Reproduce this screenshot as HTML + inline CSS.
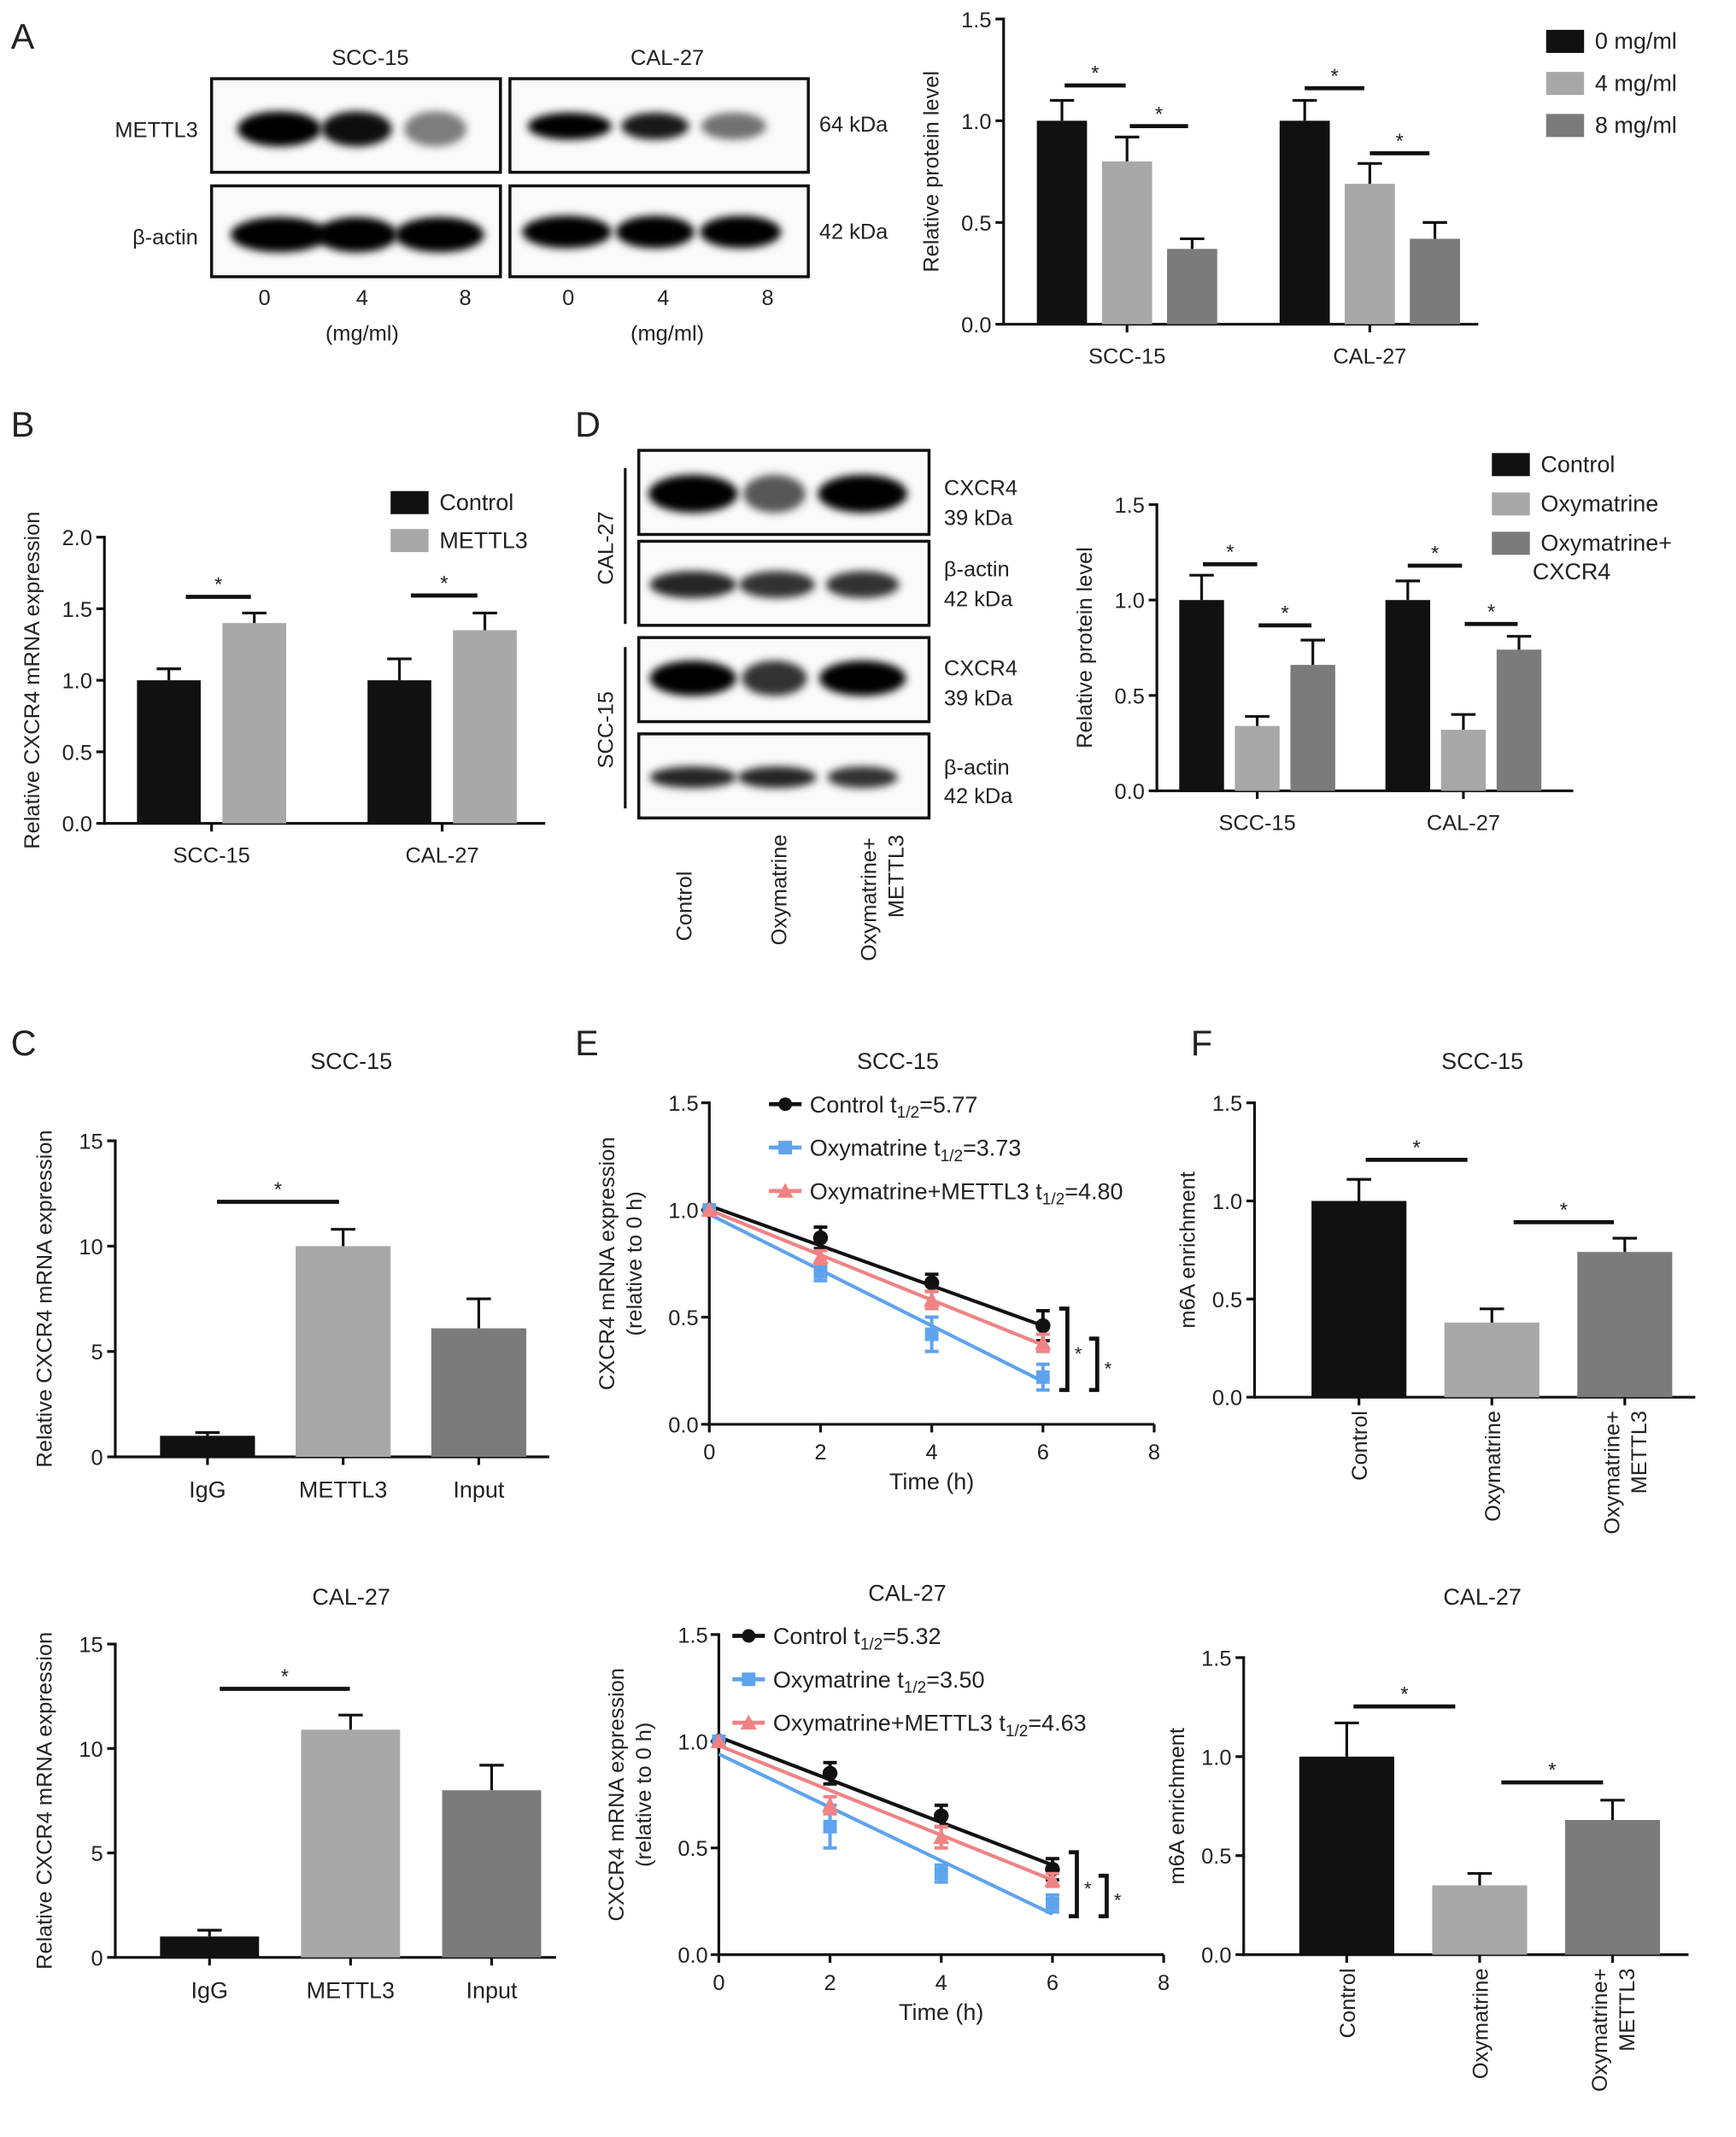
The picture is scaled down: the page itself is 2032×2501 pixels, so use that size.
<!DOCTYPE html>
<html><head><meta charset="utf-8">
<style>
html,body{margin:0;padding:0;background:#fff;}
svg{display:block;}
text{font-family:"Liberation Sans",Arial,sans-serif;fill:#222;}
</style></head>
<body>
<svg id="fig" width="2032" height="2501" viewBox="0 0 1280 1575.4" xmlns="http://www.w3.org/2000/svg">
<defs>
<filter id="blur" x="-30%" y="-80%" width="160%" height="260%"><feGaussianBlur stdDeviation="3"/></filter>
</defs>
<g id="root"></g>
</svg>
<script>
// ---------- DATA ----------
// Panel A
const aGroups=["SCC-15","CAL-27"];
const aSeries=["0 mg/ml","4 mg/ml","8 mg/ml"];
const aVals=[[1.0,0.80,0.37],[1.0,0.69,0.42]];
const aErr=[[0.10,0.12,0.05],[0.10,0.10,0.08]];
const aTicks=[0,0.5,1.0,1.5];
// Panel B
const bGroups=["SCC-15","CAL-27"];
const bSeries=["Control","METTL3"];
const bVals=[[1.0,1.40],[1.0,1.35]];
const bErr=[[0.08,0.07],[0.15,0.12]];
const bTicks=[0,0.5,1.0,1.5,2.0];
// Panel D
const dGroups=["SCC-15","CAL-27"];
const dSeries=["Control","Oxymatrine","Oxymatrine+"];
const dVals=[[1.0,0.34,0.66],[1.0,0.32,0.74]];
const dErr=[[0.13,0.05,0.13],[0.10,0.08,0.07]];
const dTicks=[0,0.5,1.0,1.5];
// Panel C
const cCats=["IgG","METTL3","Input"];
const cTopVals=[1.0,10.0,6.1];
const cTopErr=[0.15,0.8,1.4];
const cBotVals=[1.0,10.9,8.0];
const cBotErr=[0.3,0.7,1.2];
const cTicks=[0,5,10,15];
// Panel F
const fCats=["Control","Oxymatrine","Oxymatrine+METTL3"];
const fTopVals=[1.0,0.38,0.74];
const fTopErr=[0.11,0.07,0.07];
const fBotVals=[1.0,0.35,0.68];
const fBotErr=[0.17,0.06,0.10];
const fTicks=[0,0.5,1.0,1.5];
// Panel E
const eTimes=[0,2,4,6];
const eXTicks=[0,2,4,6,8];
const eYTicks=[0,0.5,1.0,1.5];
const eTopCtrl=[1.0,0.87,0.66,0.46];
const eTopOxy=[1.0,0.71,0.42,0.22];
const eTopOxyM=[1.0,0.78,0.58,0.38];
const eTopErr=[[0,0.05,0.04,0.07],[0,0.04,0.08,0.06],[0,0.03,0.04,0.04]];
const eTopFit=[[1.02,0.46],[0.98,0.20],[1.0,0.37]];
const eTopHalf=["5.77","3.73","4.80"];
const eBotCtrl=[1.0,0.85,0.65,0.40];
const eBotOxy=[1.0,0.60,0.38,0.24];
const eBotOxyM=[1.0,0.70,0.55,0.35];
const eBotErr=[[0,0.05,0.05,0.05],[0,0.1,0.04,0.04],[0,0.04,0.05,0.03]];
const eBotFit=[[1.02,0.42],[0.94,0.19],[0.98,0.35]];
const eBotHalf=["5.32","3.50","4.63"];

// ---------- HELPERS ----------
const NS="http://www.w3.org/2000/svg";
const root=document.getElementById('root');
function mk(tag,attrs,parent,txt){const e=document.createElementNS(NS,tag);for(const k in attrs)e.setAttribute(k,attrs[k]);if(txt!==undefined)e.textContent=txt;(parent||root).appendChild(e);return e;}
function line(x1,y1,x2,y2,p,w){return mk('line',{x1,y1,x2,y2,stroke:'#111','stroke-width':w||2},p);}
function txt(x,y,s,size,anchor,p,rot){const a={x,y,'font-size':size,'text-anchor':anchor||'middle'};if(rot)a.transform=`rotate(-90 ${x} ${y})`;return mk('text',a,p,s);}
const COLS=['#111111','#a8a8a8','#7b7b7b'];

function yScale(y0,yTop,max){return v=>y0-(v/max)*(y0-yTop);}

function yAxis(g,x,y0,yTop,max,ticks,fmt){
  const Y=yScale(y0,yTop,max);
  line(x,y0+1,x,yTop-1,g);
  ticks.forEach(t=>{line(x-6,Y(t),x,Y(t),g);txt(x-9,Y(t)+6,fmt(t),16,'end',g);});
  return Y;
}
function bar(g,x,w,v,e,Y,col,name){
  const r=mk('rect',{x,y:Y(v),width:w,height:Y(0)-Y(v),fill:col},g);
  
  
  const cx=x+w/2;
  line(cx,Y(v),cx,Y(v+e),g,2);
  line(cx-9,Y(v+e),cx+9,Y(v+e),g,2);
}
function sig(g,x1,x2,y){line(x1,y,x2,y,g,3);txt((x1+x2)/2,y-4,'*',15,'middle',g);}
function grp(name){const g=mk('g',{});return g;}
const f1=t=>t.toFixed(1), f0=t=>String(t);

// ---------- PANEL LETTERS ----------
[['A',8,36],['B',8,322],['D',424,322],['C',8,778],['E',424,778],['F',878,778]].forEach(([l,x,y])=>{
  const t=txt(x,y,l,26,'start');});

// ---------- BLOTS ----------
function blot(g,x,y,w,h,bands,bandY,bh){
  mk('rect',{x,y,width:w,height:h,fill:'#fafafa',stroke:'#111','stroke-width':2.2},g);
  bands.forEach(([cx,bw,op,dy])=>{mk('ellipse',{cx:x+cx,cy:y+bandY+(dy||0),rx:bw/2,ry:bh/2,fill:'#000','fill-opacity':op,filter:'url(#blur)'},g);});
}
(function(){
  const g=grp('blot-panel-a');
  txt(273,48,'SCC-15',16,'middle',g);txt(492,48,'CAL-27',16,'middle',g);
  blot(g,156,58,213,69,[[50,62,1],[107,52,0.95],[165,46,0.5]],37,26);
  blot(g,376,58,220,69,[[44,62,1],[107,50,0.9],[165,48,0.55]],35,20);
  blot(g,156,137,213,67,[[50,72,1],[107,60,1],[168,66,1]],36,26);
  blot(g,376,137,220,67,[[42,66,1],[107,58,1],[170,60,1]],34,24);
  txt(146,101,'METTL3',16,'end',g);txt(146,180,'β-actin',16,'end',g);
  txt(604,97,'64 kDa',16,'start',g);txt(604,176,'42 kDa',16,'start',g);
  [[195,'0'],[267,'4'],[343,'8'],[419,'0'],[489,'4'],[566,'8']].forEach(([x,s])=>txt(x,225,s,16,'middle',g));
  txt(267,251,'(mg/ml)',16,'middle',g);txt(492,251,'(mg/ml)',16,'middle',g);
})();
(function(){
  const g=grp('blot-panel-d');
  blot(g,471,332,214,62,[[40,66,1],[100,46,0.65],[165,66,1]],32,28);
  blot(g,471,399,214,62,[[40,64,0.85],[102,56,0.8],[165,54,0.8]],32,20);
  blot(g,471,470,214,62,[[40,64,1],[100,48,0.8],[165,64,1]],30,26);
  blot(g,471,541,214,62,[[40,64,0.85],[102,58,0.85],[165,52,0.8]],32,16);
  [['CXCR4',365],['39 kDa',387],['β-actin',425],['42 kDa',447],['CXCR4',498],['39 kDa',520],['β-actin',571],['42 kDa',592]].forEach(([s,y])=>txt(696,y,s,16,'start',g));
  line(461,345,461,460,g,2);line(461,477,461,596,g,2);
  txt(452,404,'CAL-27',16,'middle',g,true);txt(452,538,'SCC-15',16,'middle',g,true);
  txt(510,668,'Control',16,'middle',g,true);
  txt(580,656,'Oxymatrine',16,'middle',g,true);
  txt(646,663,'Oxymatrine+',16,'middle',g,true);txt(666,646,'METTL3',16,'middle',g,true);
})();

// ---------- GROUPED BAR CHART ----------
function grouped(name,o){
  const g=grp(name);
  const Y=yAxis(g,o.ax,o.y0,o.yTop,o.max,o.ticks,o.fmt);
  line(o.ax,o.y0,o.xEnd,o.y0,g);
  o.groups.forEach((gn,gi)=>{
    const gx=o.gx[gi];
    line(gx,o.y0,gx,o.y0+6,g);
    txt(gx,o.y0+29,gn,16,'middle',g);
    o.vals[gi].forEach((v,si)=>{
      const x=gx-(o.vals[gi].length*o.step)/2+si*o.step+(o.step-o.bw)/2;
      bar(g,x,o.bw,v,o.err[gi][si],Y,COLS[si],`bar-${gn}-${o.series[si]}`.toLowerCase().replace(/[^a-z0-9]+/g,'-'));
    });
  });
  txt(o.ax-48,(o.y0+o.yTop)/2,o.ytitle,16,'middle',g,true);
  (o.sigs||[]).forEach(s=>sig(g,s[0],s[1],s[2]));
  o.series.forEach((s,i)=>{
    const ly=o.ly+i*o.lstep;
    mk('rect',{x:o.lx,y:ly-8,width:28,height:17,fill:COLS[i]},g);
    const t=txt(o.lx+36,ly+6,s,17,'start',g);
    
  });
  return g;
}
grouped('chart-a',{ax:740,y0:239,yTop:14,max:1.5,ticks:aTicks,fmt:f1,xEnd:1090,groups:aGroups,gx:[831,1010],step:48,bw:37,vals:aVals,err:aErr,series:aSeries,ytitle:'Relative protein level',lx:1140,ly:30,lstep:31,sigs:[[785,830,63],[833,876,93],[962,1006,65],[1010,1054,113]]});
grouped('chart-b',{ax:77,y0:607,yTop:396,max:2.0,ticks:bTicks,fmt:f1,xEnd:402,groups:bGroups,gx:[156,326],step:63,bw:47,vals:bVals,err:bErr,series:bSeries,ytitle:'Relative CXCR4 mRNA expression',lx:288,ly:370,lstep:28,sigs:[[137,185,440],[303,352,439]]});
const gd=grouped('chart-d',{ax:853,y0:583,yTop:372,max:1.5,ticks:dTicks,fmt:f1,xEnd:1160,groups:dGroups,gx:[927,1079],step:41,bw:33,vals:dVals,err:dErr,series:dSeries,ytitle:'Relative protein level',lx:1100,ly:342,lstep:29,sigs:[[887,927,416],[928,967,461],[1038,1078,417],[1080,1119,460]]});
txt(1130,427,'CXCR4',17,'start',gd);

// ---------- SIMPLE BAR CHART ----------
function simple(name,o){
  const g=grp(name);
  const Y=yAxis(g,o.ax,o.y0,o.yTop,o.max,o.ticks,o.fmt);
  line(o.ax,o.y0,o.xEnd,o.y0,g);
  o.vals.forEach((v,i)=>{
    const x=o.x0+i*o.step;
    bar(g,x,o.bw,v,o.err[i],Y,COLS[i],'bar-'+o.cats[i].toLowerCase().replace(/[^a-z0-9]+/g,'-'));
    const cx=x+o.bw/2;line(cx,o.y0,cx,o.y0+6,g);
    if(o.rot){
      const parts=o.cats[i]==='Oxymatrine+METTL3'?['Oxymatrine+','METTL3']:[o.cats[i]];
      if(parts.length===2){txt(cx-4,o.y0+10,parts[0],16,'end',g,true);txt(cx+16,o.y0+10,parts[1],16,'end',g,true);}
      else txt(cx+6,o.y0+10,parts[0],16,'end',g,true);
    } else txt(cx,o.y0+30,o.cats[i],17,'middle',g);
  });
  txt(o.ax-o.tOff,(o.y0+o.yTop)/2,o.ytitle,16,'middle',g,true);
  txt(o.tx,o.ty,o.title,17,'middle',g);
  o.sigs.forEach(s=>sig(g,s[0],s[1],s[2]));
}
simple('chart-c-scc15',{ax:85,y0:1074,yTop:841,max:15,ticks:cTicks,fmt:f0,xEnd:405,x0:118,step:100,bw:70,vals:cTopVals,err:cTopErr,cats:cCats,ytitle:'Relative CXCR4 mRNA expression',tOff:47,title:'SCC-15',tx:259,ty:788,sigs:[[160,250,886]]});
simple('chart-c-cal27',{ax:85,y0:1443,yTop:1212,max:15,ticks:cTicks,fmt:f0,xEnd:410,x0:118,step:104,bw:73,vals:cBotVals,err:cBotErr,cats:cCats,ytitle:'Relative CXCR4 mRNA expression',tOff:47,title:'CAL-27',tx:259,ty:1183,sigs:[[162,258,1245]]});
simple('chart-f-scc15',{ax:925,y0:1030,yTop:813,max:1.5,ticks:fTicks,fmt:f1,xEnd:1250,x0:967,step:98,bw:70,vals:fTopVals,err:fTopErr,cats:fCats,rot:true,ytitle:'m6A enrichment',tOff:44,title:'SCC-15',tx:1093,ty:788,sigs:[[1007,1082,855],[1116,1190,901]]});
simple('chart-f-cal27',{ax:917,y0:1441,yTop:1222,max:1.5,ticks:fTicks,fmt:f1,xEnd:1245,x0:958,step:98,bw:70,vals:fBotVals,err:fBotErr,cats:fCats,rot:true,ytitle:'m6A enrichment',tOff:44,title:'CAL-27',tx:1093,ty:1183,sigs:[[998,1073,1258],[1107,1182,1314]]});

// ---------- LINE CHART ----------
function decay(name,o){
  const g=grp(name);
  const Y=yScale(o.y0,o.yTop,1.5);
  line(o.ax,o.y0+1,o.ax,o.yTop-1,g);
  eYTicks.forEach(t=>{line(o.ax-6,Y(t),o.ax,Y(t),g);txt(o.ax-8,Y(t)+6,f1(t),16,'end',g);});
  const X=t=>o.ax+(t/8)*(o.xEnd-o.ax);
  line(o.ax,o.y0,o.xEnd,o.y0,g);
  eXTicks.forEach(t=>{line(X(t),o.y0,X(t),o.y0+6,g);txt(X(t),o.y0+26,String(t),16,'middle',g);});
  txt((o.ax+o.xEnd)/2,o.y0+48,'Time (h)',17,'middle',g);
  txt(o.ax-70,(o.y0+o.yTop)/2,'CXCR4 mRNA expression',16,'middle',g,true);
  txt(o.ax-50,(o.y0+o.yTop)/2,'(relative to 0 h)',16,'middle',g,true);
  txt((o.ax+o.xEnd)/2-25,o.yTop-25,o.title,17,'middle',g);
  const cols=['#111111','#5ea3ee','#f08283'];
  const names=['Control','Oxymatrine','Oxymatrine+METTL3'];
  [o.s0,o.s1,o.s2].forEach((s,si)=>{
    const c=cols[si];
    const l=mk('line',{x1:X(0),y1:Y(o.fit[si][0]),x2:X(6),y2:Y(o.fit[si][1]),stroke:c,'stroke-width':2.6},g);
    
    
    s.forEach((v,i)=>{
      const x=X(eTimes[i]),y=Y(v),e=o.err[si][i];
      if(e>0){mk('line',{x1:x,y1:Y(v-e),x2:x,y2:Y(v+e),stroke:c,'stroke-width':2.5},g);
        mk('line',{x1:x-5,y1:Y(v+e),x2:x+5,y2:Y(v+e),stroke:c,'stroke-width':2.5},g);
        mk('line',{x1:x-5,y1:Y(v-e),x2:x+5,y2:Y(v-e),stroke:c,'stroke-width':2.5},g);}
      let m;
      if(si===0)m=mk('circle',{cx:x,cy:y,r:5.5,fill:c},g);
      else if(si===1)m=mk('rect',{x:x-5,y:y-5,width:10,height:10,fill:c},g);
      else m=mk('polygon',{points:`${x},${y-6} ${x+6},${y+5} ${x-6},${y+5}`,fill:c},g);
      
      
    });
    const ly=o.ly+si*32;
    mk('line',{x1:o.lx,y1:ly,x2:o.lx+24,y2:ly,stroke:c,'stroke-width':3},g);
    if(si===0)mk('circle',{cx:o.lx+12,cy:ly,r:5,fill:c},g);
    else if(si===1)mk('rect',{x:o.lx+7,y:ly-5,width:10,height:10,fill:c},g);
    else mk('polygon',{points:`${o.lx+12},${ly-6} ${o.lx+18},${ly+5} ${o.lx+6},${ly+5}`,fill:c},g);
    const t=mk('text',{x:o.lx+30,y:ly+6,'font-size':17,'text-anchor':'start'},g);
    
    
    t.innerHTML=names[si]+' t<tspan font-size="12" dy="4">1/2</tspan><tspan dy="-4">='+o.half[si]+'</tspan>';
  });
  const bx=X(6)+12;
  const yA=Y(o.s0[3]+0.08),yB=Y(o.s1[3]-0.06);
  mk('path',{d:`M${bx} ${yA} H${bx+6} V${yB} H${bx}`,fill:'none',stroke:'#111','stroke-width':3},g);
  txt(bx+14,(yA+yB)/2+8,'*',14,'middle',g);
  const by=bx+22,yC=Y(o.s2[3]+0.02);
  mk('path',{d:`M${by} ${yC} H${by+6} V${yB} H${by}`,fill:'none',stroke:'#111','stroke-width':3},g);
  txt(by+14,(yC+yB)/2+8,'*',14,'middle',g);
}
decay('chart-e-scc15',{ax:523,y0:1050,yTop:813,xEnd:851,s0:eTopCtrl,s1:eTopOxy,s2:eTopOxyM,err:eTopErr,fit:eTopFit,half:eTopHalf,title:'SCC-15',lx:567,ly:814});
decay('chart-e-cal27',{ax:530,y0:1441,yTop:1205,xEnd:858,s0:eBotCtrl,s1:eBotOxy,s2:eBotOxyM,err:eBotErr,fit:eBotFit,half:eBotHalf,title:'CAL-27',lx:540,ly:1206});
</script>
</body></html>
